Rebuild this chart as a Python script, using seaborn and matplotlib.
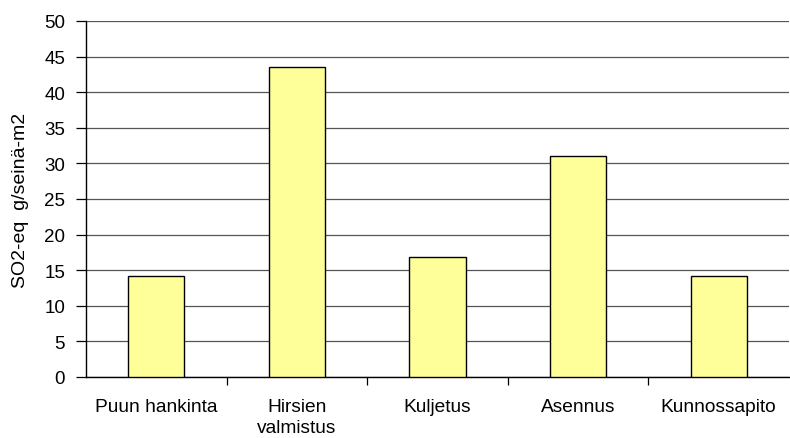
import matplotlib
matplotlib.use("Agg")
import matplotlib.pyplot as plt
import seaborn as sns
import pandas as pd

categories = ["Puun hankinta", "Hirsien\nvalmistus", "Kuljetus", "Asennus", "Kunnossapito"]
values = [14.2, 43.6, 16.9, 31.1, 14.2]
y_ticks = list(range(0, 51, 5))

sns.set_theme(style="white")
plt.rcParams["font.family"] = ["Liberation Sans", "DejaVu Sans"]
plt.rcParams.update({"text.color": "black", "axes.labelcolor": "black",
                     "xtick.color": "black", "ytick.color": "black"})

df = pd.DataFrame({"vaihe": categories, "arvo": values})

fig = plt.figure(figsize=(7.9, 4.39), dpi=100)
ax = fig.add_axes([86 / 790, 1 - 378 / 439, 703 / 790, 356 / 439])

sns.barplot(data=df, x="vaihe", y="arvo", color="#FFFF99", edgecolor="black",
            linewidth=1.0, width=0.4, saturation=1, ax=ax, zorder=3)

ax.set_ylim(0, 50)
ax.set_xlim(-0.5, len(categories) - 0.5)
ax.set_yticks(y_ticks)
ax.set_yticklabels([str(t) for t in y_ticks], fontsize=13.5)
ax.yaxis.grid(True, color="#555555", linewidth=0.9, zorder=0)
ax.set_axisbelow(True)

# category separators as tick marks on the x axis
ax.set_xticks([i + 0.5 for i in range(len(categories) - 1)], minor=False)
ax.set_xticklabels([])
ax.set_xticks(range(len(categories)), minor=True)
ax.set_xticklabels(categories, minor=True, fontsize=13.8, linespacing=1.3)
ax.tick_params(axis="x", which="major", bottom=True, direction="out", length=6,
               width=0.9, color="black")
ax.tick_params(axis="x", which="minor", bottom=True, length=0, pad=15,
               labelcolor="black")
ax.tick_params(axis="y", left=True, direction="out", length=7, width=0.9,
               color="black", pad=8, labelcolor="black")

for side in ("top", "right"):
    ax.spines[side].set_visible(False)
for side in ("left", "bottom"):
    ax.spines[side].set_color("black")
    ax.spines[side].set_linewidth(1.0)

ax.set_xlabel("")
ax.set_ylabel("SO2-eq  g/seinä-m2", fontsize=14, labelpad=11, color="black")

fig.savefig("out.png", dpi=100, facecolor="white")
